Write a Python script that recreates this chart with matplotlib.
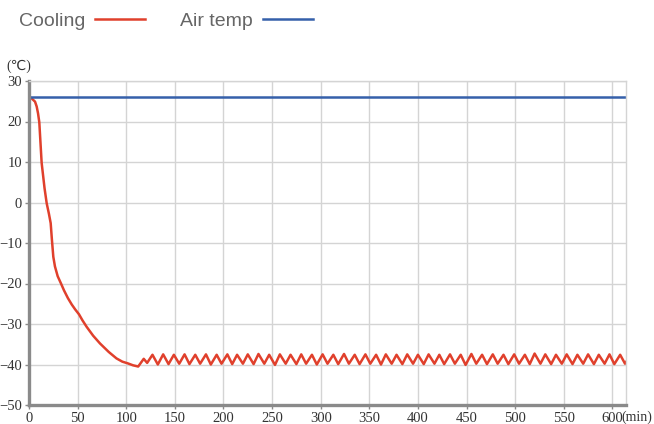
import matplotlib
matplotlib.use("Agg")
import matplotlib.pyplot as plt

# cooling curve (min, degC)
cool_t = [0, 2.7, 6.2, 7.9, 9.3, 10.6, 13, 16, 18.2, 20.5, 22.3, 23.5, 25, 26.7, 29.5, 32.9,
          36, 40, 44, 47.5, 51.4, 55, 59.3, 66, 73, 82, 90, 96, 101.4, 107, 112.3,
          118, 121.5, 127, 132.5, 138, 143.5, 149, 154.5, 160, 165, 171, 176, 182, 187, 193, 198,
          204, 209, 214, 220, 225, 231, 236, 242, 247, 253, 258, 264, 269, 275, 280, 285, 291, 296,
          302, 307, 313, 318, 324, 329, 335, 340, 346, 351, 357, 362, 367, 373, 378, 384, 389, 395,
          400, 406, 411, 417, 422, 427, 433, 438, 444, 449, 455, 460, 466, 471, 477, 482, 488, 493,
          499, 504, 510, 515, 520, 526, 531, 537, 542, 548, 553, 559, 564, 570, 575, 581, 586, 592,
          597, 602, 608, 613, 619, 625.5]
cool_T = [26.1, 25.7, 24.9, 23.7, 22, 19.8, 9.8, 3.5, -0.2, -2.8, -5.1, -9, -13.4, -15.8, -18.2, -20,
          -21.7, -23.6, -25.2, -26.4, -27.6, -29.1, -30.7, -32.9, -34.8, -36.9, -38.5, -39.3, -39.7, -40.2, -40.5,
          -38.6, -39.6, -37.6, -40.0, -37.5, -39.9, -37.6, -39.8, -37.5, -39.9, -37.6, -39.8, -37.5, -40.0, -37.6, -39.8,
          -37.5, -39.9, -37.6, -39.8, -37.5, -39.9, -37.4, -39.8, -37.6, -40.1, -37.5, -39.8, -37.6, -39.9, -37.5, -39.8, -37.6, -40.0,
          -37.5, -39.8, -37.6, -39.9, -37.4, -39.8, -37.6, -39.9, -37.5, -39.8, -37.6, -40.0, -37.5, -39.8, -37.6, -39.9, -37.5, -39.8,
          -37.6, -39.9, -37.5, -39.8, -37.6, -39.9, -37.5, -39.8, -37.6, -40.1, -37.4, -39.8, -37.6, -39.9, -37.5, -39.8, -37.6, -39.9,
          -37.5, -39.8, -37.6, -39.9, -37.3, -39.8, -37.5, -39.9, -37.6, -39.8, -37.5, -39.9, -37.6, -39.8, -37.5, -39.9, -37.6, -39.8,
          -37.5, -39.9, -37.6, -39.8, -37.6, -39.4]
air_t = [0, 614]
air_T = [26, 26]
x_ticks = list(range(0, 601, 50))
y_ticks = list(range(-50, 31, 10))

RED = "#e0402c"; BLUE = "#3560aa"; AXC = "#8a8a8a"; GRID = "#d4d4d4"

fig = plt.figure(figsize=(6.54, 4.24), dpi=100)
ax = fig.add_axes([29/654, 1-405/424, (626-29)/654, (405-81)/424])
ax.plot(cool_t, cool_T, color=RED, lw=1.8, label="Cooling", solid_joinstyle="round")
ax.plot(air_t, air_T, color=BLUE, lw=1.8, label="Air temp")
ax.set_xlim(0, 614); ax.set_ylim(-50, 30)
ax.set_xticks(x_ticks); ax.set_yticks(y_ticks)
ax.grid(True, color=GRID, lw=1)
ax.set_axisbelow(True)
for s in ["top", "right"]:
    ax.spines[s].set_color(GRID); ax.spines[s].set_linewidth(1)
for s in ["left", "bottom"]:
    ax.spines[s].set_color(AXC); ax.spines[s].set_linewidth(2.4)
ax.tick_params(length=3, width=1, color=AXC, pad=2, labelsize=10.5, labelcolor="#333333")
for lb in ax.get_xticklabels() + ax.get_yticklabels():
    lb.set_family("Liberation Serif")
ax.text(-0.038, 1.045, "(℃)", transform=ax.transAxes, ha="left", va="center",
        fontsize=10, color="#333333", family=["Liberation Serif", "DejaVu Sans"])
ax.text((621-29)/597, -5.5/324, "(min)", transform=ax.transAxes, ha="left", va="top",
        fontsize=10, color="#333333", family="Liberation Serif")

fig.legend(loc="center left", bbox_to_anchor=(1/654, 1-21/424), ncol=2, frameon=False,
           markerfirst=False, handlelength=2.6, handletextpad=0.5, columnspacing=1.8,
           prop={"family": "Liberation Sans", "size": 14}, labelcolor="#666666")
fig.savefig("out.png", dpi=100)
